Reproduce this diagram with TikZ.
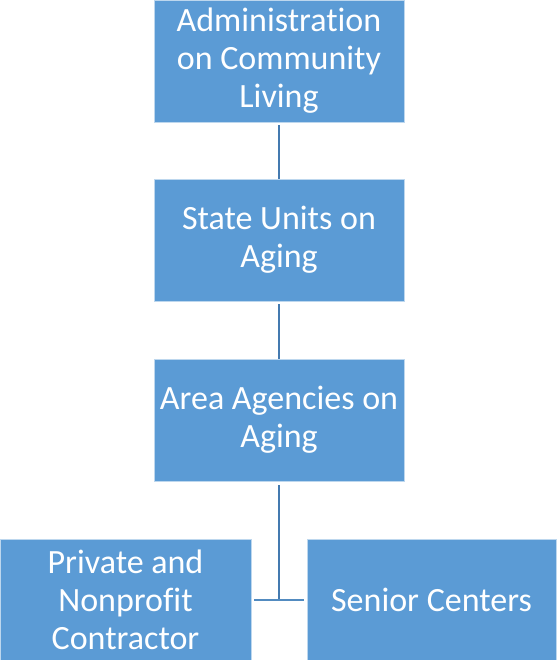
\documentclass[tikz,border=0pt]{standalone}
\usepackage{fontspec}
\setmainfont{Carlito}[Ligatures=CommonOff]
\definecolor{boxblue}{RGB}{91,155,213}
\definecolor{linkblue}{RGB}{68,122,176}
\usetikzlibrary{positioning}

\tikzset{
  orgbox/.style={draw=white!60!boxblue, line width=0.8pt, fill=boxblue, minimum width=250pt, minimum height=122pt,
    inner sep=0pt, align=center, text=white, font=\fontsize{34}{38}\selectfont},
  orglink/.style={draw=linkblue, line width=2.6pt}
}

\begin{document}
\begin{tikzpicture}[x=1pt,y=1pt]
  \useasboundingbox (0,0) rectangle (556,-660);

  \node[orgbox] (acl) at (279,-61) {Administration\\on Community\\Living};
  \node[orgbox] (sua) at (279,-240) {State Units on\\Aging};
  \node[orgbox] (aaa) at (279,-420) {Area Agencies on\\Aging};

  \node[orgbox, minimum width=251pt, minimum height=121pt] (pnc) at (125.5,-599.5) {Private and\\Nonprofit\\Contractor};
  \node[orgbox, minimum width=249pt, minimum height=121pt] (sc) at (431.5,-599.5) {Senior Centers};

  % connectors down the chain
  \draw[orglink, shorten <=3pt] (acl.south) -- (sua.north);
  \draw[orglink, shorten <=3pt] (sua.south) -- (aaa.north);

  % split to the two providers
  \coordinate (hub) at (279,-600);
  \draw[orglink, shorten <=4pt] (aaa.south) -- (hub);
  \draw[orglink, draw=boxblue!90!black, shorten <=3pt, shorten >=3pt] (pnc.east |- hub) -- (sc.west |- hub);
\end{tikzpicture}
\end{document}
